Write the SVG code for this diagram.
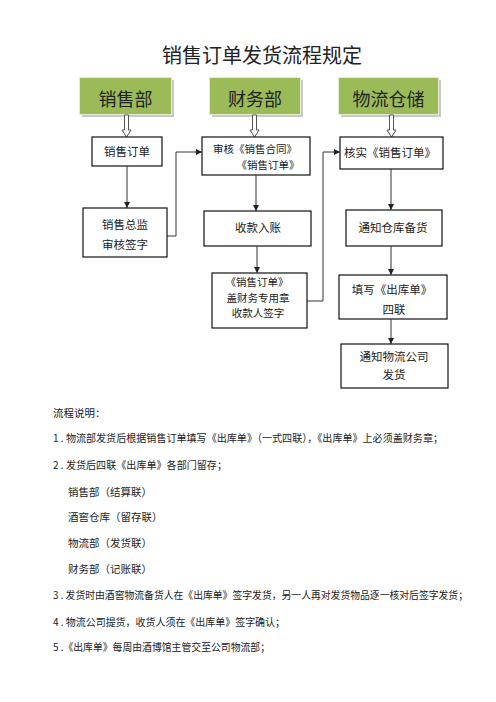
<svg xmlns="http://www.w3.org/2000/svg" width="496" height="702" viewBox="0 0 496 702">
<defs>
<marker id="ah" viewBox="0 0 10 10" refX="10" refY="5" markerWidth="6" markerHeight="6" markerUnits="userSpaceOnUse" orient="auto">
<path d="M0,0 L10,5 L0,10 z" fill="#222"/>
</marker>
</defs>
<style>
text{font-family:"Noto Sans CJK SC","Noto Sans",sans-serif;fill:#222}
.hdr rect.s{fill:#c8c8c8}
.hdr rect.b{fill:#9bbb59;stroke:#e4ecd4;stroke-width:1}
.hdr text{font-size:18px;text-anchor:middle}
.box rect{fill:#fff;stroke:#111;stroke-width:1.2}
.box text{font-size:11.5px;text-anchor:middle}
.box text.sm{font-size:10.5px}
.conn path{fill:none;stroke:#333;stroke-width:1}
.hollow path{fill:#fff;stroke:#555;stroke-width:1}
.note text{font-size:10.5px}
</style>
<rect width="496" height="702" fill="#fff"/>
<text x="262" y="63" style="font-size:20px;text-anchor:middle">销售订单发货流程规定</text>

<g id="hdr-sales" class="hdr"><rect class="s" x="82" y="80" width="92" height="37"/><rect class="b" x="79.5" y="77.5" width="92" height="37"/><text x="125.5" y="106">销售部</text></g>
<g id="hdr-finance" class="hdr"><rect class="s" x="212" y="80" width="91" height="37"/><rect class="b" x="209.5" y="77.5" width="91" height="37"/><text x="255" y="106">财务部</text></g>
<g id="hdr-logistics" class="hdr"><rect class="s" x="341" y="80" width="100" height="37"/><rect class="b" x="338.5" y="77.5" width="100" height="37"/><text x="388.5" y="106">物流仓储</text></g>

<g id="hollow-arrows" class="hollow">
<path d="M124.5,115 L128.5,115 L128.5,130 L131,130 L126.5,137 L122,130 L124.5,130 z"/>
<path d="M252.5,115 L256.5,115 L256.5,130 L259,130 L254.5,137 L250,130 L252.5,130 z"/>
<path d="M389.5,115 L393.5,115 L393.5,130 L396,130 L391.5,137 L387,130 L389.5,130 z"/>
</g>

<g id="n1" class="box"><rect x="92" y="137" width="70" height="29"/><text x="127" y="156">销售订单</text></g>
<g id="n2" class="box"><rect x="83" y="208" width="84" height="49"/><text x="125" y="229">销售总监</text><text x="125" y="249">审核签字</text></g>
<g id="n3" class="box"><rect x="202" y="137" width="108" height="38"/><text class="sm" x="255" y="153">审核《销售合同》</text><text class="sm" x="268" y="169">《销售订单》</text></g>
<g id="n4" class="box"><rect x="204" y="211" width="107" height="35"/><text x="258" y="232">收款入账</text></g>
<g id="n5" class="box"><rect x="212" y="273" width="95" height="55"/><text class="sm" x="257" y="286">《销售订单》</text><text class="sm" x="258" y="301.5">盖财务专用章</text><text class="sm" x="258" y="317">收款人签字</text></g>
<g id="n6" class="box"><rect x="340" y="137" width="103" height="32"/><text x="390" y="157">核实《销售订单》</text></g>
<g id="n7" class="box"><rect x="346" y="210" width="96" height="36"/><text x="393" y="232">通知仓库备货</text></g>
<g id="n8" class="box"><rect x="339" y="275" width="108" height="44"/><text x="392" y="294">填写《出库单》</text><text x="394" y="314">四联</text></g>
<g id="n9" class="box"><rect x="341" y="344" width="107" height="44"/><text x="394" y="361">通知物流公司</text><text x="394" y="379">发货</text></g>

<g id="connectors" class="conn">
<path d="M127,166 L127,208" marker-end="url(#ah)"/>
<path d="M167,236 L176,236 L176,152 L202,152" marker-end="url(#ah)"/>
<path d="M256,175 L256,211" marker-end="url(#ah)"/>
<path d="M257,246 L257,273" marker-end="url(#ah)"/>
<path d="M307,301 L323,301 L323,152 L340,152" marker-end="url(#ah)"/>
<path d="M391,169 L391,210" marker-end="url(#ah)"/>
<path d="M391,246 L391,275" marker-end="url(#ah)"/>
<path d="M391,319 L391,344" marker-end="url(#ah)"/>
</g>

<g id="notes" class="note">
<text x="53" y="417">流程说明：</text>
<text x="53" y="442" textLength="390" lengthAdjust="spacingAndGlyphs">1 . 物流部发货后根据销售订单填写《出库单》（一式四联），《出库单》上必须盖财务章；</text>
<text x="53" y="469" textLength="174" lengthAdjust="spacingAndGlyphs">2 . 发货后四联《出库单》各部门留存；</text>
<text x="68" y="496">销售部（结算联）</text>
<text x="68" y="521">酒窖仓库（留存联）</text>
<text x="68" y="547">物流部（发货联）</text>
<text x="68" y="573">财务部（记账联）</text>
<text x="53" y="599" textLength="415" lengthAdjust="spacingAndGlyphs">3 . 发货时由酒窖物流备货人在《出库单》签字发货，另一人再对发货物品逐一核对后签字发货；</text>
<text x="53" y="626" textLength="232" lengthAdjust="spacingAndGlyphs">4 . 物流公司提货，收货人须在《出库单》签字确认；</text>
<text x="53" y="651" textLength="217" lengthAdjust="spacingAndGlyphs">5 .《出库单》每周由酒博馆主管交至公司物流部；</text>
</g>
</svg>
